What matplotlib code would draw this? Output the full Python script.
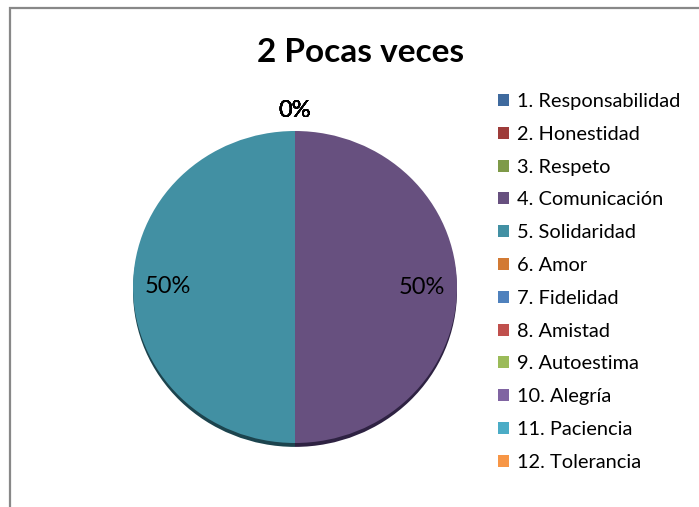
import numpy as np
import matplotlib
matplotlib.use("Agg")
import matplotlib.pyplot as plt
from matplotlib.patches import Rectangle

plt.rcParams['font.family'] = ['Lato', 'DejaVu Sans']

title = "2 Pocas veces"
categories = ["1. Responsabilidad", "2. Honestidad", "3. Respeto", "4. Comunicación",
              "5. Solidaridad", "6. Amor", "7. Fidelidad", "8. Amistad", "9. Autoestima",
              "10. Alegría", "11. Paciencia", "12. Tolerancia"]
values = [0, 0, 0, 1, 1, 0, 0, 0, 0, 0, 0, 0]
colors = ["#3F6A9E", "#9E3C3A", "#7E9A48", "#67507F", "#4290A3", "#D27A34",
          "#4F81BD", "#C0504D", "#9BBB59", "#8064A2", "#4BACC6", "#F79646"]
shadow_colors = ["#223a58", "#5a2221", "#485a28", "#2e2242", "#1c444e", "#6d3e18",
                 "#2a4565", "#6a2b2a", "#566832", "#443558", "#28606c", "#8a5326"]

W, H = 699, 507
fig = plt.figure(figsize=(W / 100, H / 100), dpi=100)

# outer frame
fig.patches.append(Rectangle((9.5 / W, -0.1), 1.2, 1 - 7.5 / H + 0.1,
                             transform=fig.transFigure, fill=False,
                             edgecolor="#888888", linewidth=1.6))

cx, cy, Rx, Ry = 295, 287, 162, 156
ax = fig.add_axes([(cx - Rx * 1.25) / W, (H - cy - Ry * 1.25) / H,
                   2.5 * Rx / W, 2.5 * Ry / H])
ax.axis("off")

# shadow underneath
ax.pie(values, colors=shadow_colors, startangle=90, counterclock=False,
       center=(0, -0.025), radius=1.0, wedgeprops=dict(linewidth=0))
wedges, _ = ax.pie(values, colors=colors, startangle=90, counterclock=False,
                   radius=1.0, wedgeprops=dict(linewidth=0))
ax.set_aspect("auto")
ax.set_xlim(-1.25, 1.25)
ax.set_ylim(-1.25, 1.25)

total = sum(values)
for w, v in zip(wedges, values):
    mid = np.deg2rad((w.theta1 + w.theta2) / 2)
    r = 0.785 if v > 0 else 1.13
    ax.text(r * np.cos(mid), r * np.sin(mid), f"{v / total * 100:.0f}%",
            ha="center", va="center", fontsize=17, color="black")

fig.text(361 / W, 1 - 52 / H, title, ha="center", va="center",
         fontsize=24, fontweight="bold")

leg = fig.legend(wedges, categories, loc="upper left",
                 bbox_to_anchor=(498 / W, 1 - 93 / H), frameon=False,
                 fontsize=14.4, handlelength=0.55, handleheight=0.55,
                 handletextpad=0.4, labelspacing=0.79, borderpad=0, borderaxespad=0)

fig.savefig("out.png", dpi=100)
